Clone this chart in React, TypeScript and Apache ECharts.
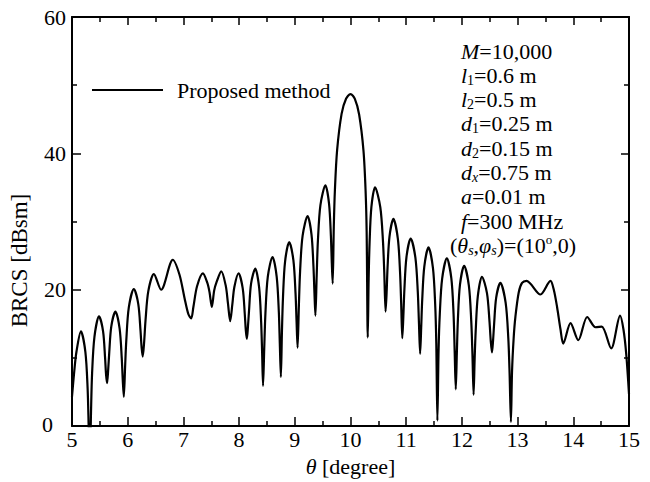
import React, { useEffect, useRef } from 'react';
import * as echarts from 'echarts';

// Incidence angle θ (degree) and BRCS (dBsm)
const theta = [
  5.0, 5.04, 5.08, 5.16, 5.24, 5.28, 5.3, 5.32, 5.341, 5.361, 5.403, 5.485,
  5.558, 5.594, 5.612, 5.63, 5.649, 5.668, 5.705, 5.78, 5.855, 5.893, 5.911, 5.93,
  5.953, 5.975, 6.02, 6.11, 6.19, 6.23, 6.25, 6.27, 6.295, 6.32, 6.37, 6.47,
  6.6, 6.81, 6.93, 7.02, 7.09, 7.14, 7.18, 7.245, 7.35, 7.43, 7.47, 7.51,
  7.553, 7.595, 7.68, 7.76, 7.8, 7.84, 7.878, 7.915, 7.99, 8.065, 8.103, 8.121,
  8.14, 8.159, 8.178, 8.215, 8.29, 8.36, 8.395, 8.413, 8.43, 8.451, 8.473, 8.515,
  8.6, 8.675, 8.713, 8.731, 8.75, 8.769, 8.788, 8.825, 8.9, 8.975, 9.013, 9.031,
  9.05, 9.073, 9.095, 9.14, 9.23, 9.3, 9.335, 9.353, 9.37, 9.393, 9.415, 9.46,
  9.55, 9.615, 9.648, 9.664, 9.68, 9.7, 9.72, 9.76, 9.84, 9.92, 10.0, 10.078,
  10.155, 10.233, 10.271, 10.29, 10.31, 10.326, 10.343, 10.375, 10.44, 10.535, 10.583, 10.606,
  10.63, 10.648, 10.665, 10.7, 10.77, 10.85, 10.89, 10.91, 10.93, 10.949, 10.968, 11.005,
  11.08, 11.165, 11.208, 11.229, 11.25, 11.269, 11.288, 11.325, 11.4, 11.48, 11.52, 11.54,
  11.56, 11.581, 11.603, 11.645, 11.73, 11.81, 11.85, 11.87, 11.89, 11.909, 11.928, 11.965,
  12.04, 12.125, 12.168, 12.189, 12.21, 12.229, 12.248, 12.285, 12.36, 12.45, 12.495, 12.518,
  12.54, 12.559, 12.578, 12.615, 12.69, 12.785, 12.833, 12.856, 12.88, 12.9, 12.93, 12.96,
  13.02, 13.08, 13.16, 13.41, 13.59, 13.65, 13.71, 13.77, 13.82, 13.95, 14.09, 14.25,
  14.4, 14.51, 14.68, 14.84, 14.9, 14.95, 15.0,
];

const brcs = [
  4.3, 8.0, 10.9, 13.9, 10.9, 5.6, -0.3, -6, 1.9, 7.8, 13.1, 16.1,
  13.9, 10.0, 7.5, 6.3, 8.2, 10.7, 14.6, 16.8, 14.3, 10.0, 6.8, 4.3,
  8.6, 12.6, 17.4, 20.1, 17.9, 14.0, 11.5, 10.2, 12.3, 15.5, 19.8, 22.3,
  20.0, 24.4, 22.2, 18.8, 16.4, 15.8, 17.5, 20.5, 22.4, 21.0, 19.6, 17.5,
  19.9, 21.1, 22.7, 20.6, 18.0, 15.4, 17.8, 20.4, 22.4, 20.2, 16.3, 14.0,
  12.8, 14.6, 16.9, 20.9, 23.1, 20.3, 15.4, 10.9, 5.9, 11.3, 16.6, 21.9,
  24.8, 21.9, 16.8, 12.1, 7.2, 13.8, 18.9, 24.1, 27.0, 24.3, 19.5, 15.5,
  11.5, 17.6, 22.7, 27.9, 30.8, 28.1, 23.4, 19.5, 16.2, 22.1, 27.2, 32.4,
  35.3, 32.6, 27.9, 24.0, 20.9, 29.2, 34.6, 40.5, 45.8, 48.0, 48.7, 48.0,
  45.7, 40.4, 34.5, 28.5, 13.0, 21.6, 27.0, 32.1, 35.0, 32.1, 27.1, 22.6,
  16.8, 19.5, 23.2, 27.8, 30.4, 27.5, 22.5, 17.9, 12.9, 16.1, 20.1, 24.8,
  27.5, 24.7, 19.7, 15.1, 10.6, 14.4, 18.6, 23.4, 26.2, 23.2, 17.9, 12.2,
  0.8, 11.0, 16.4, 21.6, 24.6, 21.7, 16.5, 11.0, 5.4, 10.6, 15.6, 20.7,
  23.5, 20.6, 15.4, 10.6, 4.6, 9.9, 14.0, 19.0, 21.9, 19.5, 15.4, 12.5,
  10.8, 12.5, 14.9, 18.8, 21.0, 18.1, 12.9, 7.8, 0.6, 8.0, 13.0, 16.0,
  19.6, 21.0, 21.3, 19.3, 21.3, 20.0, 17.4, 14.2, 12.1, 15.1, 12.6, 16.0,
  14.5, 14.6, 11.4, 16.2, 14.2, 10.6, 4.7,
];

const seriesName = 'Proposed method';
const xAxisName = '{i|θ} [degree]';
const yAxisName = 'BRCS [dBsm]';

const annotationLines = [
  '{i|M}=10,000',
  '{i|l}{sub|1}=0.6 m',
  '{i|l}{sub|2}=0.5 m',
  '{i|d}{sub|1}=0.25 m',
  '{i|d}{sub|2}=0.15 m',
  '{i|d}{isub|x}=0.75 m',
  '{i|a}=0.01 m',
  '{i|f}=300 MHz',
  '({i|θ}{isub|s},{i|φ}{isub|s})=(10{sup|o},0)',
];

const FONT = 'Liberation Serif';

export default function App() {
  const ref = useRef<HTMLDivElement>(null);

  useEffect(() => {
    if (!ref.current) return;
    const chart = echarts.init(ref.current, null, { renderer: 'svg' });

    const data = theta.map((t, i) => [t, brcs[i]]);

    const tickStyle = { color: '#000', width: 1.5 };
    const axisLineStyle = { color: '#000', width: 2 };

    const annotationRich = {
      i: { fontStyle: 'italic', fontFamily: FONT, fontSize: 22, lineHeight: 24 },
      sub: { fontFamily: FONT, fontSize: 14, lineHeight: 12, verticalAlign: 'bottom' },
      isub: { fontFamily: FONT, fontSize: 14, lineHeight: 12, verticalAlign: 'bottom', fontStyle: 'italic' },
      sup: { fontFamily: FONT, fontSize: 13, lineHeight: 12, verticalAlign: 'top' },
    };

    const option: any = {
      animation: false,
      backgroundColor: '#fff',
      textStyle: { fontFamily: FONT },
      grid: { left: 72, right: 21, top: 17, bottom: 48, containLabel: false },
      legend: {
        show: true,
        left: 91,
        top: 79,
        padding: 0,
        itemWidth: 71,
        itemHeight: 22,
        itemStyle: { opacity: 0 },
        textStyle: { fontFamily: FONT, fontSize: 22, color: '#000', padding: [0, 0, 0, 9] },
        data: [seriesName],
      },
      xAxis: [
        {
          type: 'value',
          min: 5,
          max: 15,
          interval: 1,
          position: 'bottom',
          axisLine: { show: true, onZero: false, lineStyle: axisLineStyle },
          axisTick: { show: true, inside: true, length: 9, lineStyle: tickStyle },
          minorTick: { show: true, splitNumber: 2, length: 5, lineStyle: tickStyle },
          splitLine: { show: false },
          axisLabel: { color: '#000', fontFamily: FONT, fontSize: 22, margin: 2 },
          name: xAxisName,
          nameLocation: 'middle',
          nameGap: 22,
          nameTextStyle: {
            color: '#000',
            fontFamily: FONT,
            fontSize: 22,
            rich: { i: { fontStyle: 'italic', fontFamily: FONT, fontSize: 22 } },
          },
        },
        {
          type: 'value',
          min: 5,
          max: 15,
          interval: 1,
          position: 'top',
          axisLine: { show: true, onZero: false, lineStyle: axisLineStyle },
          axisTick: { show: true, inside: true, length: 8, lineStyle: tickStyle },
          minorTick: { show: true, splitNumber: 2, length: 5, lineStyle: tickStyle },
          splitLine: { show: false },
          axisLabel: { show: false },
        },
      ],
      yAxis: [
        {
          type: 'value',
          min: 0,
          max: 60,
          interval: 20,
          position: 'left',
          axisLine: { show: true, onZero: false, lineStyle: axisLineStyle },
          axisTick: { show: true, inside: true, length: 9, lineStyle: tickStyle },
          minorTick: { show: true, splitNumber: 2, length: 5, lineStyle: tickStyle },
          splitLine: { show: false },
          axisLabel: {
            color: '#000',
            fontFamily: FONT,
            fontSize: 22,
            margin: 6,
            formatter: (v: number) => (v === 0 ? '{z|0}' : String(v)),
            rich: { z: { fontFamily: FONT, fontSize: 22, color: '#000', padding: [0, 13, 3, 0] } },
          },
          name: yAxisName,
          nameLocation: 'middle',
          nameGap: 37,
          nameTextStyle: { color: '#000', fontFamily: FONT, fontSize: 23, padding: [0, 78, 0, 0] },
        },
        {
          type: 'value',
          min: 0,
          max: 60,
          interval: 20,
          position: 'right',
          axisLine: { show: true, onZero: false, lineStyle: axisLineStyle },
          axisTick: { show: true, inside: true, length: 8, lineStyle: tickStyle },
          minorTick: { show: true, splitNumber: 2, length: 5, lineStyle: tickStyle },
          splitLine: { show: false },
          axisLabel: { show: false },
        },
      ],
      series: [
        {
          name: seriesName,
          type: 'line',
          data,
          xAxisIndex: 0,
          yAxisIndex: 0,
          symbol: 'none',
          showSymbol: false,
          smooth: 0.3,
          clip: true,
          lineStyle: { color: '#000', width: 2.2 },
          itemStyle: { color: '#000' },
        },
      ],
      graphic: annotationLines.map((t, i) => ({
        type: 'text',
        x: i === annotationLines.length - 1 ? 450 : 461,
        y: 51 + 24.3 * i,
        silent: true,
        style: {
          text: t,
          fill: '#000',
          fontFamily: FONT,
          fontSize: 22,
          lineHeight: 24,
          align: 'left',
          verticalAlign: 'middle',
          rich: annotationRich,
        },
      })),
    };

    chart.setOption(option);
    return () => chart.dispose();
  }, []);

  return (
    <div
      ref={ref}
      style={{ position: 'fixed', left: 0, top: 0, width: 650, height: 482, background: '#fff' }}
    />
  );
}
